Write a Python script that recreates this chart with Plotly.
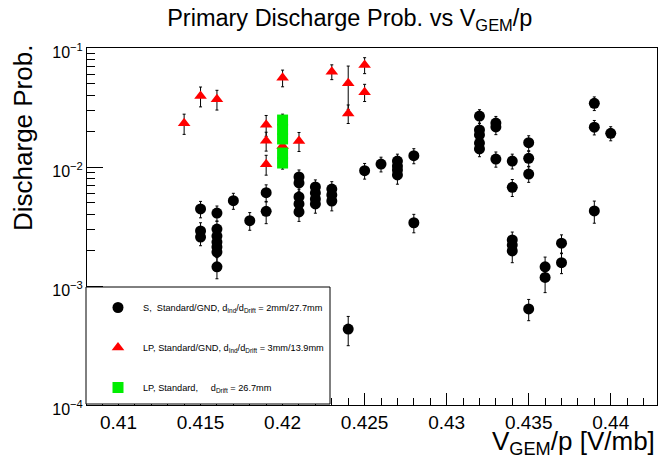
import plotly.graph_objects as go

# ---------------- data ----------------
s_x = [0.415, 0.415, 0.415,
       0.416, 0.416, 0.416, 0.416, 0.416, 0.416, 0.416,
       0.417, 0.418, 0.419, 0.419,
       0.421, 0.421, 0.421, 0.421, 0.421,
       0.422, 0.422, 0.422, 0.422,
       0.423, 0.423, 0.423,
       0.424, 0.425, 0.426,
       0.427, 0.427, 0.427, 0.427,
       0.428, 0.428,
       0.432, 0.432, 0.432, 0.432, 0.432,
       0.433, 0.433, 0.433,
       0.434, 0.434, 0.434, 0.434, 0.434,
       0.435, 0.435, 0.435, 0.435,
       0.436, 0.436, 0.437, 0.437,
       0.439, 0.439, 0.439, 0.440]
s_y = [0.00444, 0.00290, 0.00258,
       0.00410, 0.00301, 0.00263, 0.00234, 0.00213, 0.00193, 0.00145,
       0.00521, 0.00354, 0.00608, 0.00424,
       0.00824, 0.00734, 0.00560, 0.00489, 0.00419,
       0.00679, 0.00605, 0.00539, 0.00489,
       0.00653, 0.00582, 0.00518,
       0.000435, 0.00931, 0.01059,
       0.01122, 0.01019, 0.00944, 0.00857,
       0.01245, 0.00340,
       0.0268, 0.0205, 0.0186, 0.0159, 0.0142,
       0.0234, 0.0217, 0.01167,
       0.01122, 0.00675, 0.00244, 0.00221, 0.00197,
       0.0160, 0.01183, 0.00873, 0.000641,
       0.00145, 0.00118, 0.00229, 0.00157,
       0.0343, 0.0216, 0.00427, 0.0192]
s_err = [0.0007, 0.0005, 0.0004,
         0.0006, 0.0005, 0.0004, 0.0004, 0.0004, 0.0004, 0.0003,
         0.0008, 0.0006, 0.0010, 0.0009,
         0.0012, 0.0011, 0.0009, 0.0008, 0.0007,
         0.0010, 0.0009, 0.0008, 0.0008,
         0.0010, 0.0009, 0.0009,
         0.00012, 0.0014, 0.0015,
         0.0016, 0.0015, 0.0014, 0.0014,
         0.0018, 0.0006,
         0.0035, 0.0028, 0.0025, 0.0022, 0.0020,
         0.0032, 0.0030, 0.0017,
         0.0016, 0.0011, 0.0004, 0.0004, 0.0004,
         0.0023, 0.0017, 0.0013, 0.00013,
         0.0003, 0.0003, 0.0004, 0.0003,
         0.0045, 0.0030, 0.0009, 0.0026]

lp_x = [0.414, 0.415, 0.416, 0.419, 0.419, 0.419, 0.420, 0.420,
        0.421, 0.423, 0.424, 0.424, 0.425, 0.425]
lp_y = [0.0233, 0.0395, 0.0371, 0.0226, 0.0166, 0.01054, 0.0562, 0.0150,
        0.0165, 0.0632, 0.0505, 0.0282, 0.0719, 0.0425]
lp_err = [0.0045, 0.0075, 0.0070, 0.0045, 0.0030, 0.0020, 0.0090, 0.0020,
          0.0030, 0.0090, 0.0200, 0.0050, 0.0110, 0.0070]

ls_x = [0.420, 0.420, 0.420, 0.420, 0.420]
ls_y = [0.0248, 0.0208, 0.0172, 0.0131, 0.0108]
ls_err = [0.0030, 0.0010, 0.0010, 0.0010, 0.0012]

x_ticks = [0.41, 0.415, 0.42, 0.425, 0.43, 0.435, 0.44]
x_ticklabels = ["0.41", "0.415", "0.42", "0.425", "0.43", "0.435", "0.44"]
y_ticks = [1e-4, 1e-3, 1e-2, 1e-1]
y_ticklabels = ["10<sup>\u22124</sup>", "10<sup>\u22123</sup>",
                "10<sup>\u22122</sup>", "10<sup>\u22121</sup>"]

names = [
    "S,\u00a0\u00a0Standard/GND, d<sub>Ind</sub>/d<sub>Drift</sub> = 2mm/27.7mm",
    "LP, Standard/GND, d<sub>Ind</sub>/d<sub>Drift</sub> = 3mm/13.9mm",
    "LP, Standard,\u00a0\u00a0\u00a0\u00a0\u00a0d<sub>Drift</sub> = 26.7mm",
]

FONT = "Liberation Sans, Arial, Helvetica, sans-serif"

fig = go.Figure()


def err(arr):
    return dict(type="data", array=arr, visible=True, color="black",
                thickness=1, width=1.5)


fig.add_trace(go.Scatter(x=s_x, y=s_y, mode="markers", name=names[0],
                         legendgroup="a",
                         marker=dict(symbol="circle", size=11, color="black"),
                         error_y=err(s_err)))
fig.add_trace(go.Scatter(x=lp_x, y=lp_y, mode="markers", name=names[1],
                         legendgroup="b",
                         marker=dict(symbol="triangle-up", size=11, color="red"),
                         error_y=err(lp_err)))
fig.add_trace(go.Scatter(x=ls_x, y=ls_y, mode="markers", name=names[2],
                         legendgroup="c",
                         marker=dict(symbol="square", size=11, color="#00ee00"),
                         error_y=err(ls_err)))

y_minor = [m * 10.0 ** e for e in (-4, -3, -2) for m in range(2, 10)]

fig.update_layout(
    width=660, height=459,
    margin=dict(l=87, r=3, t=48, b=54),
    paper_bgcolor="white", plot_bgcolor="white",
    font=dict(family=FONT, color="black"),
    title=dict(text="Primary Discharge Prob. vs V<sub>GEM</sub>/p",
               x=0.53, xanchor="center", y=0.962, yanchor="middle",
               font=dict(size=23.5, family=FONT, color="black")),
    showlegend=True,
    legend=dict(x=(93 - 87) / 570, y=(405 - 293) / 357, xanchor="left",
                yanchor="top", bgcolor="rgba(0,0,0,0)", borderwidth=0,
                font=dict(size=9.2, family=FONT), traceorder="grouped",
                tracegroupgap=21, itemwidth=40),
    xaxis=dict(range=[0.40808, 0.44282], showgrid=False, zeroline=False,
               showline=True, linecolor="black", linewidth=1, mirror=True,
               ticks="inside", ticklen=12, tickcolor="black",
               tickmode="array", tickvals=x_ticks, ticktext=x_ticklabels,
               tickfont=dict(size=19, family=FONT),
               minor=dict(ticks="inside", ticklen=7, dtick=0.001, tick0=0.41,
                          tickcolor="black", showgrid=False)),
    yaxis=dict(type="log", range=[-4, -1], showgrid=False, zeroline=False,
               showline=True, linecolor="black", linewidth=1, mirror=True,
               ticks="inside", ticklen=16, tickcolor="black",
               tickmode="array", tickvals=y_ticks, ticktext=y_ticklabels,
               tickfont=dict(size=16, family=FONT), ticklabelshift=4,
               minor=dict(ticks="inside", ticklen=8, tickmode="array",
                          tickvals=y_minor, tickcolor="black", showgrid=False)),
    shapes=[dict(type="rect", xref="paper", yref="paper",
                 x0=(86 - 87) / 570, x1=(330 - 87) / 570,
                 y0=(405 - 404) / 357, y1=(405 - 287) / 357,
                 fillcolor="white", line=dict(color="black", width=1),
                 layer="above")],
    annotations=[
        dict(text="V<sub>GEM</sub>/p [V/mb]", xref="paper", yref="paper",
             x=1.0, y=(405 - 442) / 357, xanchor="right", yanchor="middle",
             showarrow=False, font=dict(size=26, family=FONT)),
        dict(text="Discharge Prob.", xref="paper", yref="paper",
             x=(23 - 87) / 570, y=(405 - 43) / 357, xanchor="center",
             yanchor="top", textangle=-90, showarrow=False,
             font=dict(size=26, family=FONT)),
    ],
)

fig.write_html("out.html")
